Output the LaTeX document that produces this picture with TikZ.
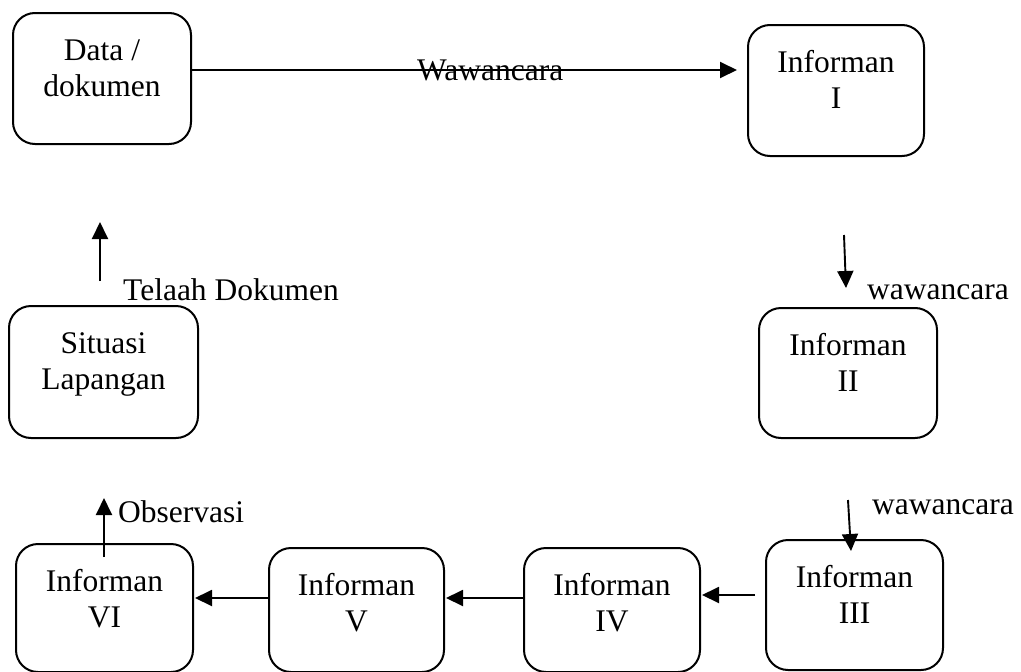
\documentclass[tikz,border=0pt]{standalone}
\usepackage{fontspec}
\setmainfont{Liberation Serif}
\usepackage{tikz}
\usetikzlibrary{arrows.meta}

\newcommand{\twolines}[2]{\begin{tabular}[t]{@{}c@{}}#1\\#2\end{tabular}}

\begin{document}
\begin{tikzpicture}[x=1pt, y=-1pt,
  box/.style={draw, line width=2pt, rounded corners=22pt, inner sep=0pt,
    anchor=north west, text height=47pt, font=\fontsize{31.5}{36}\selectfont},
  lbl/.style={inner sep=0pt, anchor=base west, font=\fontsize{31.5}{36}\selectfont},
  arr/.style={line width=1.9pt, -{Triangle[length=17pt,width=16pt]}}]
  \useasboundingbox (0,0) rectangle (1021,672);

  % ---- boxes ----
  \node[box, minimum width=178pt, text depth=84pt] (data) at (12,12) {\twolines{Data /}{dokumen}};
  \node[box, minimum width=176pt, text depth=84pt] (inf1) at (747,24) {\twolines{Informan}{I}};
  \node[box, minimum width=189pt, text depth=85pt] (sit) at (8,305) {\twolines{Situasi}{Lapangan}};
  \node[box, minimum width=178pt, text depth=83pt] (inf2) at (758,307) {\twolines{Informan}{II}};
  \node[box, minimum width=177pt, text depth=83pt] (inf3) at (765,539) {\twolines{Informan}{III}};
  \node[box, minimum width=176pt, text depth=77pt] (inf4) at (523,547) {\twolines{Informan}{IV}};
  \node[box, minimum width=175pt, text depth=77pt] (inf5) at (268,547) {\twolines{Informan}{V}};
  \node[box, minimum width=177pt, text depth=81pt] (inf6) at (15,543) {\twolines{Informan}{VI}};

  % ---- connectors ----
  \draw[arr] ([shift={(0,-8.5)}]data.east) -- ([shift={(-10,-20.5)}]inf1.west);
  \draw[arr] ([shift={(8,78)}]inf1.south) -- ([shift={(-2,-19)}]inf2.north);
  \draw[arr] ([shift={(0,61)}]inf2.south) -- ([shift={(-3.5,12)}]inf3.north);
  \draw[arr] ([shift={(-10,-10)}]inf3.west) -- ([shift={(1,-15)}]inf4.east);
  \draw[arr] ([shift={(0,-12)}]inf4.west) -- ([shift={(1,-12)}]inf5.east);
  \draw[arr] ([shift={(0,-12)}]inf5.west) -- ([shift={(1,-10)}]inf6.east);
  \draw[arr] ([shift={(-0.5,14)}]inf6.north) -- ([shift={(-0.5,-45)}]inf6.north);
  \draw[arr] ([shift={(-3.5,-24)}]sit.north) -- ([shift={(-2,77)}]data.south);

  % ---- labels ----
  \node[lbl] (lwawa) at (417,80) {Wawancara};
  \node[lbl] (lwaw1) at (867,299) {wawancara};
  \node[lbl] (lwaw2) at (872,514) {wawancara};
  \node[lbl] (lobs) at (118,522) {Observasi};
  \node[lbl] (ltel) at (123,300) {Telaah Dokumen};
\end{tikzpicture}
\end{document}
